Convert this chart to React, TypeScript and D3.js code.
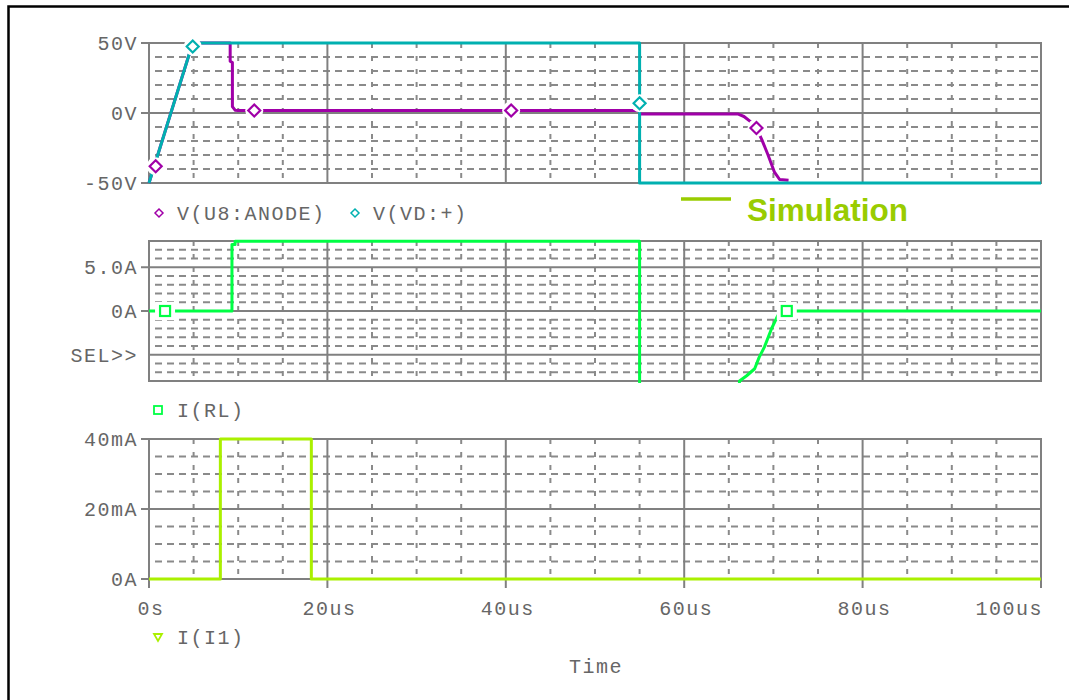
import { useEffect, useRef } from 'react';
import * as d3 from 'd3';

const TIME_TICKS = [0, 20, 40, 60, 80, 100];
const TIME_LABELS = ['0s', '20us', '40us', '60us', '80us', '100us'];

const VOLT_TICKS = [50, 0, -50];
const VOLT_LABELS = ['50V', '0V', '-50V'];
const RL_TICKS = [5, 0, -5];
const RL_LABELS = ['5.0A', '0A', 'SEL>>'];
const I1_TICKS = [40, 20, 0];
const I1_LABELS = ['40mA', '20mA', '0A'];

// [time in us, value]
const ANODE = [
  [0, -50], [4.9, 50], [9.1, 50], [9.1, 37], [9.35, 36], [9.35, 4.5], [9.65, 2], [10, 1.8],
  [55, 1.8], [55, -0.7], [66, -0.7], [66.7, -2.5], [67.4, -6], [68.1, -10.7], [68.7, -19],
  [69.4, -30], [70.1, -42], [70.7, -47.5], [71.7, -48],
];
const ANODE_MARKS = [[0.75, -38], [11.8, 1.8], [40.6, 1.8], [68.1, -10.7]];

const VD = [[0, -50], [4.9, 50], [55, 50], [55, -50], [100, -50]];
const VD_MARKS = [[4.9, 47.5], [55, 7]];

const RL = [
  [0, 0], [9.3, 0], [9.3, 7.6], [9.65, 7.6], [9.65, 7.97], [55, 7.97], [55, -12], [66, -12],
  [66.2, -8], [67.0, -7.4], [67.9, -6.6], [68.4, -5.3], [69.0, -4.1], [69.8, -2.0],
  [70.5, -0.5], [71.2, 0], [100, 0],
];
const RL_MARKS = [[1.8, 0], [71.5, 0]];

const I1 = [[0, 0], [8.0, 0], [8.0, 40], [18.2, 40], [18.2, 0], [100, 0]];

const MAGENTA = '#a000a8';
const CYAN = '#00b0b0';
const GREEN = '#00ff44';
const LIME = '#aaf000';
const SIM = '#99cc00';
const GRID = '#8a8a8a';
const TEXT = '#666';
const MONO = '"Liberation Mono", "DejaVu Sans Mono", monospace';

export default function App() {
  const svgRef = useRef<SVGSVGElement>(null);

  useEffect(() => {
    const svg = d3.select(svgRef.current);
    svg.selectAll('*').remove();

    const x = d3.scaleLinear().domain([0, 100]).range([149, 1041]);
    const panels = [
      { top: 43, bottom: 183, domain: [-50, 50], minor: 10, major: [0], ticks: VOLT_TICKS, labels: VOLT_LABELS, marks: [50, 0, -50] },
      { top: 241, bottom: 381, domain: [-8, 8], minor: 1, major: [-5, 0, 5], ticks: RL_TICKS, labels: RL_LABELS, marks: [5, 0] },
      { top: 439, bottom: 579, domain: [0, 40], minor: 5, major: [20], ticks: I1_TICKS, labels: I1_LABELS, marks: [40, 20, 0] },
    ];
    const ys = panels.map(p => d3.scaleLinear().domain(p.domain).range([p.bottom, p.top]));

    // outer frame
    svg.append('rect').attr('x', 8.5).attr('y', 6.5).attr('width', 1100).attr('height', 720)
      .attr('fill', 'none').attr('stroke', '#000').attr('stroke-width', 2.5);

    const minorT = d3.range(5, 100, 5).filter(t => t % 20 !== 0);
    const majorT = [20, 40, 60, 80];

    panels.forEach((p, i) => {
      const y = ys[i];
      const g = svg.append('g');
      const minorV = d3.range(p.domain[0] + p.minor, p.domain[1], p.minor)
        .filter(v => !p.major.some(m => Math.abs(m - v) < 1e-9));
      g.selectAll('.hm').data(minorV).join('line')
        .attr('x1', x(0) + 6).attr('x2', x(100)).attr('y1', d => y(d)).attr('y2', d => y(d))
        .attr('stroke', GRID).attr('stroke-width', 2).attr('stroke-dasharray', '7,5');
      g.selectAll('.vm').data(minorT).join('line')
        .attr('x1', d => x(d)).attr('x2', d => x(d)).attr('y1', p.top).attr('y2', p.bottom)
        .attr('stroke', GRID).attr('stroke-width', 2).attr('stroke-dasharray', '5,8');
      g.selectAll('.hM').data(p.major).join('line')
        .attr('x1', x(0)).attr('x2', x(100)).attr('y1', d => y(d)).attr('y2', d => y(d))
        .attr('stroke', '#808080').attr('stroke-width', 2);
      g.selectAll('.vM').data(majorT).join('line')
        .attr('x1', d => x(d)).attr('x2', d => x(d)).attr('y1', p.top).attr('y2', p.bottom)
        .attr('stroke', '#808080').attr('stroke-width', 2);
      g.append('rect').attr('x', x(0)).attr('y', p.top).attr('width', x(100) - x(0)).attr('height', p.bottom - p.top)
        .attr('fill', 'none').attr('stroke', '#808080').attr('stroke-width', 2);
      // y ticks + labels
      g.selectAll('.yt').data(p.marks).join('line')
        .attr('x1', x(0) - 8).attr('x2', x(0)).attr('y1', d => y(d)).attr('y2', d => y(d))
        .attr('stroke', '#808080').attr('stroke-width', 2);
      g.selectAll('.yl').data(p.ticks).join('text')
        .attr('x', x(0) - 11).attr('y', d => y(d)).attr('dy', '0.36em')
        .attr('text-anchor', 'end').attr('font-family', MONO).attr('font-size', 20)
        .attr('letter-spacing', 1.5).attr('fill', TEXT)
        .text((d, j) => p.labels[j]);
      // clip
      svg.append('clipPath').attr('id', `clip${i}`).append('rect')
        .attr('x', x(0) - 3).attr('y', p.top - 2).attr('width', x(100) - x(0) + 6).attr('height', p.bottom - p.top + 4);
    });

    // x ticks + labels under bottom panel
    const yb = panels[2].bottom;
    svg.selectAll('.xt').data(TIME_TICKS).join('line')
      .attr('x1', d => x(d)).attr('x2', d => x(d)).attr('y1', yb).attr('y2', yb + 9)
      .attr('stroke', '#808080').attr('stroke-width', 2);
    svg.selectAll('.xl').data(TIME_TICKS).join('text')
      .attr('x', (d, j) => (j === TIME_TICKS.length - 1 ? x(d) + 2 : x(d) + 2))
      .attr('y', yb + 36)
      .attr('text-anchor', (d, j) => (j === TIME_TICKS.length - 1 ? 'end' : 'middle'))
      .attr('font-family', MONO).attr('font-size', 20).attr('letter-spacing', 1.5).attr('fill', TEXT)
      .text((d, j) => TIME_LABELS[j]);

    const trace = (data: number[][], y: d3.ScaleLinear<number, number>, color: string, clip: number) => {
      const line = d3.line<number[]>().x(d => x(d[0])).y(d => y(d[1]));
      svg.append('path').datum(data).attr('d', line).attr('fill', 'none')
        .attr('stroke', color).attr('stroke-width', 3).attr('stroke-linejoin', 'round')
        .attr('clip-path', `url(#clip${clip})`);
    };
    trace(ANODE, ys[0], MAGENTA, 0);
    trace(VD, ys[0], CYAN, 0);
    trace(RL, ys[1], GREEN, 1);
    trace(I1, ys[2], LIME, 2);

    const diamond = (cx: number, cy: number, r: number, color: string, w: number, halo: boolean) => {
      if (halo) svg.append('circle').attr('cx', cx).attr('cy', cy).attr('r', 9).attr('fill', '#fff');
      svg.append('path').attr('d', `M${cx},${cy - r}L${cx + r},${cy}L${cx},${cy + r}L${cx - r},${cy}Z`)
        .attr('fill', '#fff').attr('stroke', color).attr('stroke-width', w);
    };
    const square = (cx: number, cy: number, r: number, color: string, w: number, halo: boolean) => {
      if (halo) svg.append('rect').attr('x', cx - 10).attr('y', cy - 9).attr('width', 20).attr('height', 18).attr('fill', '#fff');
      svg.append('rect').attr('x', cx - r).attr('y', cy - r).attr('width', 2 * r).attr('height', 2 * r)
        .attr('fill', '#fff').attr('stroke', color).attr('stroke-width', w);
    };
    ANODE_MARKS.forEach(d => diamond(x(d[0]), ys[0](d[1]), 6, MAGENTA, 2.2, true));
    VD_MARKS.forEach(d => diamond(x(d[0]), ys[0](d[1]), 6, CYAN, 2.2, true));
    RL_MARKS.forEach(d => square(x(d[0]), ys[1](d[1]), 5, GREEN, 2.2, true));

    // legends
    const legendText = (tx: number, ty: number, s: string) =>
      svg.append('text').attr('x', tx).attr('y', ty).attr('font-family', MONO).attr('font-size', 20)
        .attr('letter-spacing', 1.5).attr('fill', TEXT).text(s);
    diamond(159, 213, 4, MAGENTA, 1.5, false);
    legendText(177, 220, 'V(U8:ANODE)');
    diamond(355, 213, 4, CYAN, 1.5, false);
    legendText(373, 220, 'V(VD:+)');
    square(158, 410, 4, GREEN, 1.8, false);
    legendText(177, 417, 'I(RL)');
    svg.append('path').attr('d', 'M154,634L162,634L158,641Z').attr('fill', '#fff')
      .attr('stroke', LIME).attr('stroke-width', 1.8);
    legendText(177, 644, 'I(I1)');
    svg.append('text').attr('x', 596).attr('y', 673).attr('text-anchor', 'middle').attr('font-family', MONO)
      .attr('font-size', 20).attr('letter-spacing', 1.5).attr('fill', TEXT).text('Time');

    // Simulation key
    svg.append('line').attr('x1', 681).attr('x2', 731).attr('y1', 199).attr('y2', 199)
      .attr('stroke', SIM).attr('stroke-width', 3.5);
    svg.append('text').attr('x', 747).attr('y', 221).attr('font-family', '"Liberation Sans", Arial, sans-serif')
      .attr('font-weight', 'bold').attr('font-size', 31.5).attr('fill', SIM).text('Simulation');
  }, []);

  return (
    <svg ref={svgRef} width={1069} height={700}
      style={{ position: 'absolute', left: 0, top: 0, background: '#fff', display: 'block' }} />
  );
}
